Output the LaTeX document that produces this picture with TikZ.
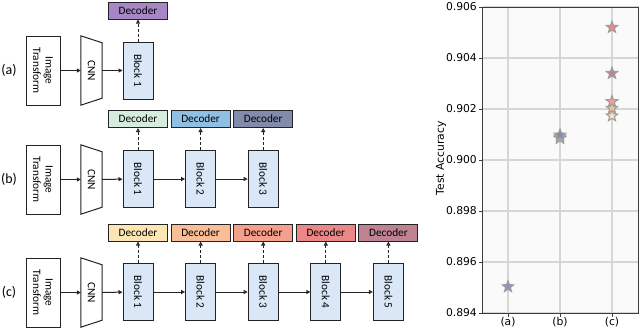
\documentclass[tikz,border=0pt]{standalone}
\usepackage{fontspec}
\setmainfont{Carlito}
\newfontfamily\plotfont{DejaVu Sans}
\usetikzlibrary{arrows.meta,shapes.geometric,calc}
\definecolor{blockblue}{RGB}{217,231,247}
\definecolor{deca}{RGB}{166,134,196}
\definecolor{decbA}{RGB}{213,236,222}
\definecolor{decbB}{RGB}{143,192,227}
\definecolor{decbC}{RGB}{130,140,170}
\definecolor{deccA}{RGB}{253,230,179}
\definecolor{deccB}{RGB}{249,189,151}
\definecolor{deccC}{RGB}{245,160,140}
\definecolor{deccD}{RGB}{236,135,135}
\definecolor{deccE}{RGB}{190,130,145}
\definecolor{axbg}{RGB}{250,250,250}
\definecolor{gridc}{RGB}{214,214,214}
\definecolor{spinec}{RGB}{60,60,60}
\definecolor{edgec}{RGB}{35,35,35}
\begin{document}
\begin{tikzpicture}[x=1bp,y=-1bp,
  box/.style={draw=edgec,line width=1bp,inner sep=0pt},
  lbl/.style={font=\fontsize{11.3}{12.5}\selectfont},
  itbox/.style={box,lbl,fill=white,rotate=-90,minimum width=69bp,minimum height=34bp,align=center},
  blk/.style={box,lbl,fill=blockblue,rotate=-90,minimum width=57bp,minimum height=30bp},
  dec/.style={box,lbl,minimum width=59bp,minimum height=17bp},
  cnnb/.style={inner sep=0pt,minimum width=21bp,minimum height=69bp},
  cnntext/.style={lbl,rotate=-90},
  conn/.style={line width=1bp,draw=edgec,-{Triangle[open,length=4bp,width=4bp]}},
  dconn/.style={conn,dash pattern=on 3bp off 2bp},
  rowlab/.style={font=\fontsize{14}{15}\selectfont},
  tick/.style={draw=spinec,line width=0.9bp},
  ticklab/.style={font=\plotfont\fontsize{10.8}{11.5}\selectfont,inner sep=0pt},
  starm/.style={star,star points=5,star point ratio=2.4,minimum size=12bp,inner sep=0pt,draw=black!38,line width=1.1bp}
]
\useasboundingbox (0,0) rectangle (640,328);

% ---------- row (a)
\node[rowlab] (la) at (9,70.5) {(a)};
\node[itbox] (ita) at (43,70.5) {Image\\Transform};
\node[cnnb] (cnna) at (91.5,70.5) {};
\draw[box,fill=white] (cnna.north west) -- ($(cnna.north east)+(0,7)$) -- ($(cnna.south east)+(0,-7)$) -- (cnna.south west) -- cycle;
\node[cnntext] (cnnta) at (cnna) {CNN};
\node[blk] (ba1) at (138,70.5) {Block 1};
\node[dec,fill=deca] (da1) at (138,10.5) {Decoder};
\draw[conn] (ita) -- (cnna);
\draw[conn] (cnna) -- (ba1);
\draw[dconn] (ba1) -- (da1);

% ---------- row (b)
\node[rowlab] (lb) at (9,179.5) {(b)};
\node[itbox] (itb) at (43,179.5) {Image\\Transform};
\node[cnnb] (cnnb) at (91.5,179.5) {};
\draw[box,fill=white] (cnnb.north west) -- ($(cnnb.north east)+(0,7)$) -- ($(cnnb.south east)+(0,-7)$) -- (cnnb.south west) -- cycle;
\node[cnntext] (cnntb) at (cnnb) {CNN};
\foreach \i/\c in {1/decbA,2/decbB,3/decbC}{
  \node[blk] (bb\i) at ({138+62.6*(\i-1)},179) {Block \i};
  \node[dec,fill=\c] (db\i) at ({138+62.6*(\i-1)},119) {Decoder};
  \draw[dconn] (bb\i) -- (db\i);
}
\draw[conn] (itb) -- (cnnb);
\draw[conn] (cnnb) -- (bb1);
\draw[conn] (bb1) -- (bb2);
\draw[conn] (bb2) -- (bb3);

% ---------- row (c)
\node[rowlab] (lc) at (9,292.5) {(c)};
\node[itbox] (itc) at (43,292.5) {Image\\Transform};
\node[cnnb] (cnnc) at (91.5,292.5) {};
\draw[box,fill=white] (cnnc.north west) -- ($(cnnc.north east)+(0,7)$) -- ($(cnnc.south east)+(0,-7)$) -- (cnnc.south west) -- cycle;
\node[cnntext] (cnntc) at (cnnc) {CNN};
\foreach \i/\c in {1/deccA,2/deccB,3/deccC,4/deccD,5/deccE}{
  \node[blk] (bc\i) at ({138+62.6*(\i-1)},292) {Block \i};
  \node[dec,fill=\c] (dc\i) at ({138+62.6*(\i-1)},232.5) {Decoder};
  \draw[dconn] (bc\i) -- (dc\i);
}
\draw[conn] (itc) -- (cnnc);
\draw[conn] (cnnc) -- (bc1);
\draw[conn] (bc1) -- (bc2);
\draw[conn] (bc2) -- (bc3);
\draw[conn] (bc3) -- (bc4);
\draw[conn] (bc4) -- (bc5);

% ---------- plot
\fill[axbg] (482,7) rectangle (638.5,313);
\foreach \x in {508,560,612}{\draw[gridc,line width=1.2bp] (\x,7) -- (\x,313);}
\foreach \k/\t in {0/0.894,1/0.896,2/0.898,3/0.900,4/0.902,5/0.904,6/0.906}{
  \draw[gridc,line width=1.2bp] (482,{313-51*\k}) -- (638.5,{313-51*\k});
  \draw[tick] (482,{313-51*\k}) -- (478.5,{313-51*\k});
  \node[ticklab,anchor=east] (yt\k) at (477,{313-51*\k}) {\t};
}
\foreach \x/\n/\t in {508/a/(a),560/b/(b),612/c/(c)}{
  \draw[tick] (\x,313) -- (\x,316.5);
  \node[ticklab,anchor=north] (xt\n) at (\x,317) {\t};
}
\draw[draw=spinec,line width=1bp] (482,7) rectangle (638.5,313);
\node[ticklab,rotate=90] (ylab) at (441,158.5) {Test Accuracy};

% stars
\node[starm,fill=deca] (sa) at (508,286.7) {};
\node[starm,fill=decbA] (sb1) at (560,138.3) {};
\node[starm,fill=decbB] (sb2) at (560,137) {};
\node[starm,fill=decbC] (sb3) at (560,135) {};
\node[starm,fill=deccA] (sc1) at (612,115.9) {};
\node[starm,fill=deccB] (sc2) at (612,108.2) {};
\node[starm,fill=deccC] (sc3) at (612,101.6) {};
\node[starm,fill=deccE] (sc5) at (612,73.3) {};
\node[starm,fill=deccD] (sc4) at (612,27.4) {};
\end{tikzpicture}
\end{document}
